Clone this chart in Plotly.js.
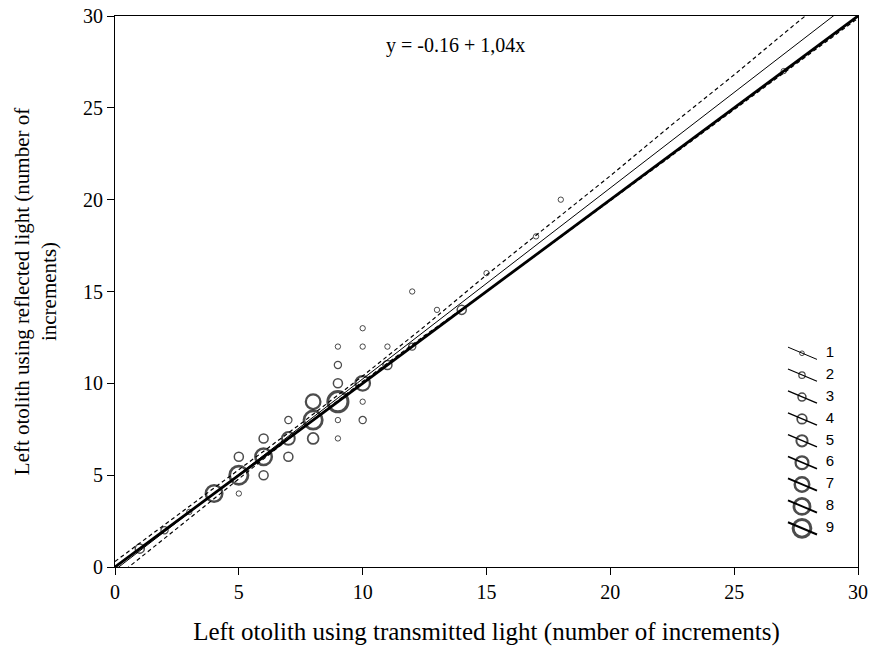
<!DOCTYPE html>
<html><head><meta charset="utf-8">
<script src="https://cdn.plot.ly/plotly-3.0.1.min.js"></script>
<style>html,body{margin:0;padding:0;background:#fff}</style>
</head><body><div id="chart" style="width:873px;height:648px"></div>
<script>
// Observed (transmitted, reflected) increment pairs and number of otoliths at each pair
const ptX = [1, 2, 3, 4, 5, 5, 5, 6, 6, 6, 7, 7, 7, 8, 8, 8, 9, 9, 9, 9, 9, 9, 10, 10, 10, 10, 10, 11, 11, 12, 12, 13, 14, 15, 17, 18, 27];
const ptY = [1, 2, 3, 4, 4, 5, 6, 5, 6, 7, 6, 7, 8, 7, 8, 9, 7, 8, 9, 10, 11, 12, 8, 9, 10, 12, 13, 11, 12, 12, 15, 14, 14, 16, 18, 20, 27];
const ptN = [3, 2, 1, 7, 1, 8, 3, 3, 7, 3, 3, 5, 2, 4, 8, 6, 1, 1, 9, 3, 2, 1, 2, 1, 6, 1, 1, 3, 1, 2, 1, 1, 3, 1, 1, 1, 1];

// Legend classes
const legendCounts = [1, 2, 3, 4, 5, 6, 7, 8, 9];

// 1:1 line
const identX = [0, 30];
const identY = [0, 30];
// Regression y = -0.16 + 1.04x
const regX = [0, 30];
const regY = [-0.16, 31.04];
// 95% confidence band
const bandX = [0, 2.5, 5, 7.5, 10, 12.5, 15, 17.5, 20, 22.5, 25, 27.5, 30];
const bandUpper = [0.3, 2.8, 5.3, 7.8, 10.4, 13.1, 15.9, 18.6, 21.3, 24.1, 26.8, 29.6, 32.3];
const bandLower = [-0.6, 2.1, 4.8, 7.5, 10.1, 12.6, 15.0, 17.5, 19.95, 22.42, 24.9, 27.4, 29.88];

const eqText = 'y = -0.16 + 1,04x';
const xTitle = 'Left otolith using transmitted light (number of increments)';
const yTitle = 'Left otolith using reflected light (number of<br>increments)';

const serif = 'Liberation Serif, Times New Roman, serif';
const sans = 'Liberation Sans, Arial, sans-serif';
const sizeFor = n => 3.5 + 1.85 * n;
const lwFor = n => 1 + 0.25 * (n - 1);

const traces = [];
traces.push({x: bandX, y: bandUpper, mode: 'lines', line: {color: '#000', width: 1.2, dash: '4px,3px'}, hoverinfo: 'skip'});
traces.push({x: bandX, y: bandLower, mode: 'lines', line: {color: '#000', width: 1.2, dash: '4px,3px'}, hoverinfo: 'skip'});
traces.push({x: regX, y: regY, mode: 'lines', line: {color: '#000', width: 1}});
traces.push({x: identX, y: identY, mode: 'lines', line: {color: '#000', width: 2.8}});
traces.push({
  x: ptX, y: ptY, mode: 'markers',
  marker: {symbol: 'circle-open', color: '#000', size: ptN.map(sizeFor), line: {color: '#000', width: ptN.map(lwFor)}}
});

// custom legend on an auxiliary axis pair
legendCounts.forEach(n => {
  traces.push({x: [8, 37], y: [n - 0.28, n + 0.28], xaxis: 'x2', yaxis: 'y2', mode: 'lines',
    line: {color: '#000', width: 1 + 0.13 * (n - 1)}, hoverinfo: 'skip'});
});
traces.push({x: legendCounts.map(() => 22), y: legendCounts, xaxis: 'x2', yaxis: 'y2', mode: 'markers',
  marker: {symbol: 'circle-open', color: '#000', size: legendCounts.map(n => sizeFor(n) * 0.88), line: {color: '#000', width: legendCounts.map(lwFor)}}});
traces.push({x: legendCounts.map(() => 50), y: legendCounts, xaxis: 'x2', yaxis: 'y2', mode: 'text',
  text: legendCounts.map(String), textfont: {family: sans, size: 15, color: '#000'}});

const layout = {
  width: 873, height: 648,
  margin: {l: 115, r: 15, t: 16, b: 81},
  paper_bgcolor: '#fff', plot_bgcolor: '#fff',
  showlegend: false,
  font: {family: serif, color: '#000', size: 18},
  xaxis: {
    range: [0, 30], dtick: 5, ticks: 'outside', ticklen: 7, tickwidth: 1, tickcolor: '#000',
    showline: true, linecolor: '#000', linewidth: 1, mirror: true, showgrid: false, zeroline: false,
    tickfont: {family: serif, size: 20},
    title: {text: xTitle, font: {family: serif, size: 25}, standoff: 20}
  },
  yaxis: {
    range: [0, 30], dtick: 5, ticks: 'outside', ticklen: 7, tickwidth: 1, tickcolor: '#000',
    showline: true, linecolor: '#000', linewidth: 1, mirror: true, showgrid: false, zeroline: false,
    tickfont: {family: serif, size: 20},
    title: {text: yTitle, font: {family: serif, size: 21}, standoff: 20}
  },
  xaxis2: {domain: [0.895, 0.9892], range: [0, 70], anchor: 'y2', visible: false, fixedrange: true},
  yaxis2: {domain: [0.0305, 0.4276], range: [10, 0], anchor: 'x2', visible: false, fixedrange: true},
  annotations: [{xref: 'x', yref: 'y', x: 13.75, y: 28.4, text: eqText, showarrow: false,
    font: {family: serif, size: 20, color: '#000'}}]
};

Plotly.newPlot('chart', traces, layout, {displayModeBar: false, staticPlot: true});
</script></body></html>
